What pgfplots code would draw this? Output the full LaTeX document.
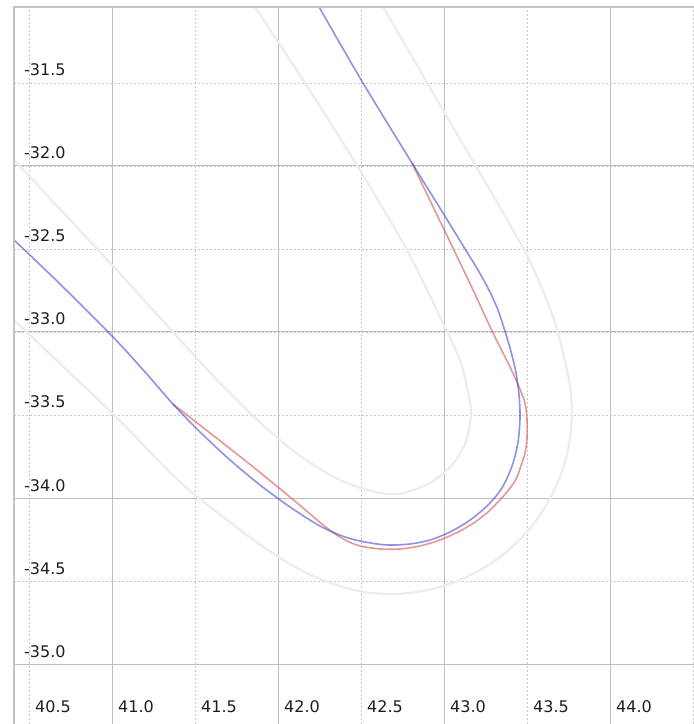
\documentclass[border=0pt]{standalone}
\usepackage{fontspec}
\setmainfont{DejaVu Sans}
\usepackage{pgfplots}
\pgfplotsset{compat=1.18}
\definecolor{gridc}{RGB}{190,190,190}
\definecolor{gridd}{RGB}{200,200,200}
\definecolor{framec}{RGB}{195,195,195}
\definecolor{grayc}{RGB}{236,236,236}
\definecolor{bluec}{RGB}{70,70,215}
\definecolor{redc}{RGB}{215,80,80}
\definecolor{labc}{RGB}{30,30,30}
\begin{document}
\begin{tikzpicture}
\useasboundingbox (-14pt,0pt) rectangle (680pt,724pt);
\begin{axis}[
 at={(0,0)}, anchor=south west,
 scale only axis, width=680pt, height=717pt,
 xmin=40.4096, xmax=44.506, ymin=-35.3614, ymax=-31.0422,
 axis line style={draw=none},
 xtick={40.5,41,41.5,42,42.5,43,43.5,44,44.5},
 xticklabels={40.5,41.0,41.5,42.0,42.5,43.0,43.5,44.0,\mbox{}},
 ytick={-35,-34.5,-34,-33.5,-33,-32.5,-32,-31.5},
 yticklabels={-35.0,-34.5,-34.0,-33.5,-33.0,-32.5,-32.0,-31.5},
 major tick length=0pt,
 xmajorgrids, ymajorgrids,
 major grid style={draw=gridd, dash pattern=on 2pt off 2pt, line width=0.8pt},
 extra x ticks={41,42,43,44}, extra x tick labels={\mbox{},\mbox{},\mbox{},\mbox{}},
 extra y ticks={-35,-34,-33,-32}, extra y tick labels={\mbox{},\mbox{},\mbox{},\mbox{}},
 extra tick style={major grid style={draw=gridc, solid, line width=1pt}},
 xticklabel style={anchor=base west, inner sep=0pt, xshift=6pt, yshift=11pt},
 yticklabel style={anchor=base west, inner sep=0pt, xshift=10pt, yshift=7pt},
 tick label style={font=\fontsize{16}{19}\selectfont, text=labc},
]
% inner gray boundary
\addplot[draw=grayc, line width=2.2pt, smooth] table {
41.861 -31.042
42.163 -31.500
42.482 -32.006
42.777 -32.506
42.976 -32.910
43.096 -33.169
43.145 -33.367
43.163 -33.488
43.133 -33.657
43.048 -33.801
42.916 -33.910
42.759 -33.970
42.675 -33.976
42.590 -33.964
42.482 -33.934
42.373 -33.892
42.253 -33.825
42.133 -33.747
42.012 -33.651
41.831 -33.488
41.633 -33.289
41.367 -33.000
41.000 -32.596
40.410 -31.964
};
% outer gray boundary
\addplot[draw=grayc, line width=2.2pt, smooth] table {
42.633 -31.042
42.994 -31.663
43.476 -32.494
43.657 -32.910
43.734 -33.198
43.761 -33.339
43.771 -33.482
43.761 -33.625
43.734 -33.766
43.687 -33.902
43.624 -34.030
43.545 -34.149
43.450 -34.257
43.342 -34.352
43.223 -34.431
43.095 -34.495
42.958 -34.541
42.818 -34.569
42.675 -34.578
42.531 -34.569
42.392 -34.536
42.253 -34.488
42.127 -34.428
42.012 -34.361
41.861 -34.259
41.711 -34.145
41.560 -34.030
41.410 -33.904
41.229 -33.723
41.000 -33.488
40.410 -32.928
};
% red path
\addplot[draw=redc, opacity=0.6, line width=1.6pt, smooth, tension=0.45] table {
42.807 -31.982
43.054 -32.494
43.175 -32.747
43.295 -33.006
43.398 -33.211
43.452 -33.331
43.488 -33.428
43.500 -33.530
43.500 -33.633
43.488 -33.729
43.440 -33.873
43.398 -33.940
43.337 -34.012
43.265 -34.084
43.187 -34.145
43.096 -34.199
42.976 -34.253
42.855 -34.289
42.735 -34.307
42.614 -34.307
42.494 -34.289
42.404 -34.253
42.295 -34.181
42.072 -33.994
41.813 -33.783
41.367 -33.434
};
% blue path
\addplot[draw=bluec, opacity=0.6, line width=1.6pt, smooth] table {
42.247 -31.042
42.512 -31.500
42.807 -31.982
42.994 -32.283
43.127 -32.500
43.205 -32.627
43.271 -32.747
43.325 -32.867
43.367 -32.994
43.404 -33.120
43.434 -33.247
43.452 -33.380
43.458 -33.512
43.446 -33.663
43.410 -33.807
43.349 -33.940
43.265 -34.042
43.157 -34.133
43.036 -34.205
42.916 -34.253
42.795 -34.277
42.657 -34.283
42.524 -34.265
42.404 -34.235
42.253 -34.169
42.072 -34.054
41.892 -33.922
41.711 -33.771
41.530 -33.602
41.367 -33.434
41.199 -33.241
41.000 -33.024
40.687 -32.711
40.410 -32.446
};
\end{axis}
\draw[draw=framec, line width=1.5pt] (current axis.south west) -- (current axis.north west) -- (current axis.north east);
\end{tikzpicture}
\end{document}
